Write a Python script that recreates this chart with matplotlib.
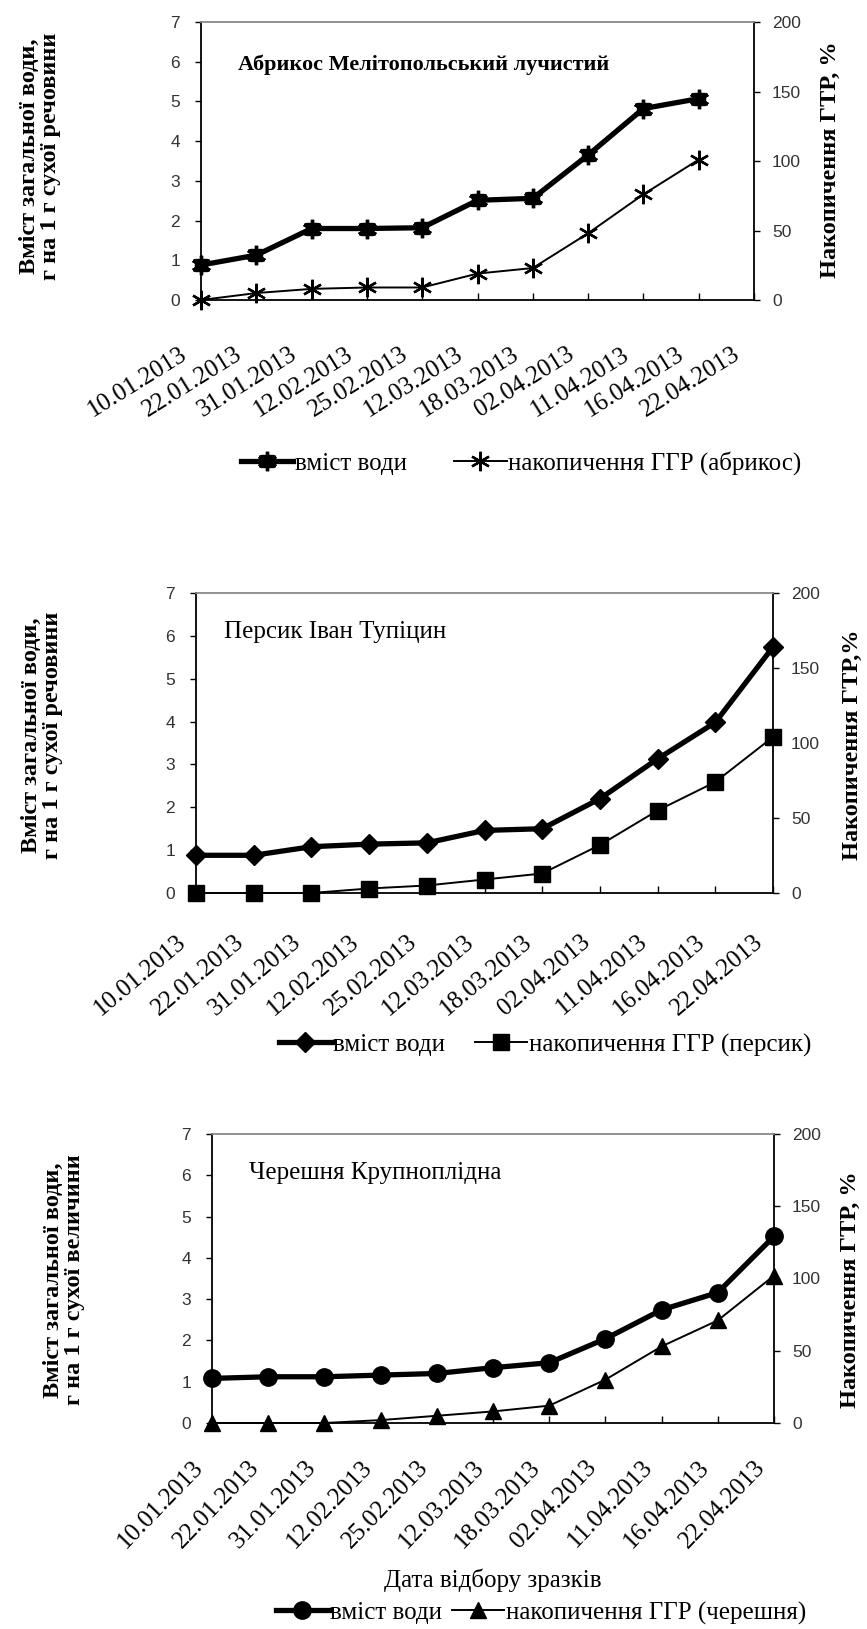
"""
Water content and GGR accumulation in buds of apricot, peach and sweet cherry
(three stacked panels with twin y axes).
"""

import matplotlib
matplotlib.use("Agg")
import matplotlib.pyplot as plt
from matplotlib.legend_handler import HandlerTuple
from matplotlib.transforms import ScaledTranslation

W, H, DPI = 867, 1629, 100

SERIF = ["Liberation Serif", "DejaVu Serif"]
SANS = ["Liberation Sans", "DejaVu Sans"]

# sampling dates (x categories)
dates = ["10.01.2013", "22.01.2013", "31.01.2013", "12.02.2013", "25.02.2013",
         "12.03.2013", "18.03.2013", "02.04.2013", "11.04.2013", "16.04.2013",
         "22.04.2013"]

# water content, g per 1 g dry matter (left axis)
apricot_water = [0.88, 1.13, 1.80, 1.80, 1.82, 2.51, 2.56, 3.65, 4.82, 5.07]
peach_water = [0.88, 0.88, 1.08, 1.14, 1.17, 1.46, 1.50, 2.20, 3.13, 3.98, 5.74]
cherry_water = [1.08, 1.12, 1.12, 1.16, 1.20, 1.34, 1.46, 2.04, 2.74, 3.16, 4.52]

# GGR accumulation, % (right axis)
apricot_ggr = [0, 5, 8, 9, 9, 19, 23, 48, 76, 101]
peach_ggr = [0, 0, 0, 3, 5, 9, 13, 32, 55, 74, 104]
cherry_ggr = [0, 0, 0, 2, 5, 8, 12, 30, 53, 71, 102]

left_ticks = [0, 1, 2, 3, 4, 5, 6, 7]
right_ticks = [0, 50, 100, 150, 200]


def px_box(left, right, top, bottom):
    return [left / W, 1 - bottom / H, (right - left) / W, (bottom - top) / H]


def fx(x):
    return x / W


def fy(y):
    return 1 - y / H


def draw_panel(fig, box, water, ggr, w_style, g_style, title, title_bold,
               title_size, title_xy, label_rot, label_dx, label_pad,
               ylab_left, ylab_left_xy, ylab_right, ylab_right_xy,
               leg_labels, leg_xy, leg_gap):
    ax = fig.add_axes(px_box(*box))
    ax2 = ax.twinx()

    x_w = list(range(len(water)))
    x_g = list(range(len(ggr)))

    w_lines = [ax.plot(x_w, water, color="black", lw=3.8, zorder=3,
                       clip_on=False, **w_style[0])[0]]
    for extra in w_style[1:]:
        w_lines.append(ax.plot(x_w, water, color="black", lw=0, zorder=4,
                               clip_on=False, **extra)[0])
    g_line = ax2.plot(x_g, ggr, color="black", lw=1.4, zorder=3,
                      clip_on=False, **g_style)[0]

    ax.set_xlim(0, len(dates) - 1)
    ax.set_ylim(0, 7)
    ax2.set_ylim(0, 200)
    ax.set_yticks(left_ticks)
    ax2.set_yticks(right_ticks)
    ax.set_xticks(range(len(dates)))

    ax.tick_params(axis="x", direction="in", length=5, width=1, pad=label_pad)
    ax.tick_params(axis="y", direction="out", length=4, width=1, pad=11,
                   labelsize=12.5, labelcolor="#333333")
    ax2.tick_params(axis="y", direction="out", length=4, width=1, pad=9,
                    labelsize=12.5, labelcolor="#333333")
    for lab in ax.get_yticklabels() + ax2.get_yticklabels():
        lab.set_family(SANS)

    # date labels: set after tick_params, which would reset the transforms
    ax.set_xticklabels(dates, rotation=label_rot, ha="right", va="top",
                       rotation_mode="anchor", family=SERIF, fontsize=18)
    shift = ScaledTranslation(label_dx / DPI, 0, fig.dpi_scale_trans)
    for lab in ax.get_xticklabels():
        lab.set_transform(lab.get_transform() + shift)

    for sp in ax.spines.values():
        sp.set_linewidth(1.3)
        sp.set_color("black")
    ax.spines["top"].set_color("#888888")
    ax.spines["right"].set_visible(False)
    for name in ["left", "top", "bottom"]:
        ax2.spines[name].set_visible(False)
    ax2.spines["right"].set_linewidth(1.3)
    ax.set_zorder(ax2.get_zorder() + 1)
    ax.patch.set_visible(False)

    fig.text(fx(title_xy[0]), fy(title_xy[1]), title, family=SERIF,
             fontsize=title_size, fontweight="bold" if title_bold else "normal",
             ha="left", va="center")
    fig.text(fx(ylab_left_xy[0]), fy(ylab_left_xy[1]), ylab_left, family=SERIF,
             fontsize=17.5, fontweight="bold", rotation=90, ha="center",
             va="center", linespacing=1.0)
    fig.text(fx(ylab_right_xy[0]), fy(ylab_right_xy[1]), ylab_right, family=SERIF,
             fontsize=17.5, fontweight="bold", rotation=90, ha="center",
             va="center")

    w_handle = tuple(w_lines) if len(w_lines) > 1 else w_lines[0]
    fig.legend([w_handle, g_line], leg_labels, loc="center",
               bbox_to_anchor=(fx(leg_xy[0]), fy(leg_xy[1])), ncol=2,
               frameon=False, prop={"family": SERIF, "size": 18},
               handlelength=2.1, handletextpad=0.05, columnspacing=leg_gap,
               borderpad=0, handler_map={tuple: HandlerTuple(ndivide=1)})
    return ax, ax2


def main():
    fig = plt.figure(figsize=(W / DPI, H / DPI), dpi=DPI)
    fig.patch.set_facecolor("white")

    ylab_dry = "Вміст загальної води,\nг на 1 г сухої речовини"

    draw_panel(fig, (201, 754, 22, 300), apricot_water, apricot_ggr,
               [dict(marker="s", ms=9), dict(marker=(6, 2, 0), ms=14, mew=2.4)],
               dict(marker=(6, 2, 0), ms=14, mew=1.7),
               "Абрикос Мелітопольський лучистий", True, 16, (238, 65),
               32, -22, 31,
               ylab_dry, (40, 156), "Накопичення ГТР, %", (830, 160),
               ["вміст води", "накопичення ГГР (абрикос)"], (521, 463), 1.9)

    draw_panel(fig, (196, 773, 593, 893), peach_water, peach_ggr,
               [dict(marker="D", ms=10)],
               dict(marker="s", ms=11),
               "Персик Іван Тупіцин", False, 18, (224, 632),
               40, -20, 27,
               ylab_dry, (42, 735), "Накопичення ГТР,%", (852, 745),
               ["вміст води", "накопичення ГГР (персик)"], (545, 1045), 1.2)

    draw_panel(fig, (212, 774, 1134, 1423), cherry_water, cherry_ggr,
               [dict(marker="o", ms=12.5)],
               dict(marker="^", ms=11),
               "Черешня Крупноплідна", False, 18, (249, 1173),
               46, -20, 24,
               "Вміст загальної води,\nг на 1 г сухої величини",
               (64, 1280), "Накопичення ГТР, %", (850, 1290),
               ["вміст води", "накопичення ГГР (черешня)"], (541, 1613), 0.4)

    fig.text(fx(493), fy(1580), "Дата відбору зразків", family=SERIF,
             fontsize=18, ha="center", va="center")

    fig.savefig("out.png", dpi=DPI, facecolor="white")


if __name__ == "__main__":
    main()
